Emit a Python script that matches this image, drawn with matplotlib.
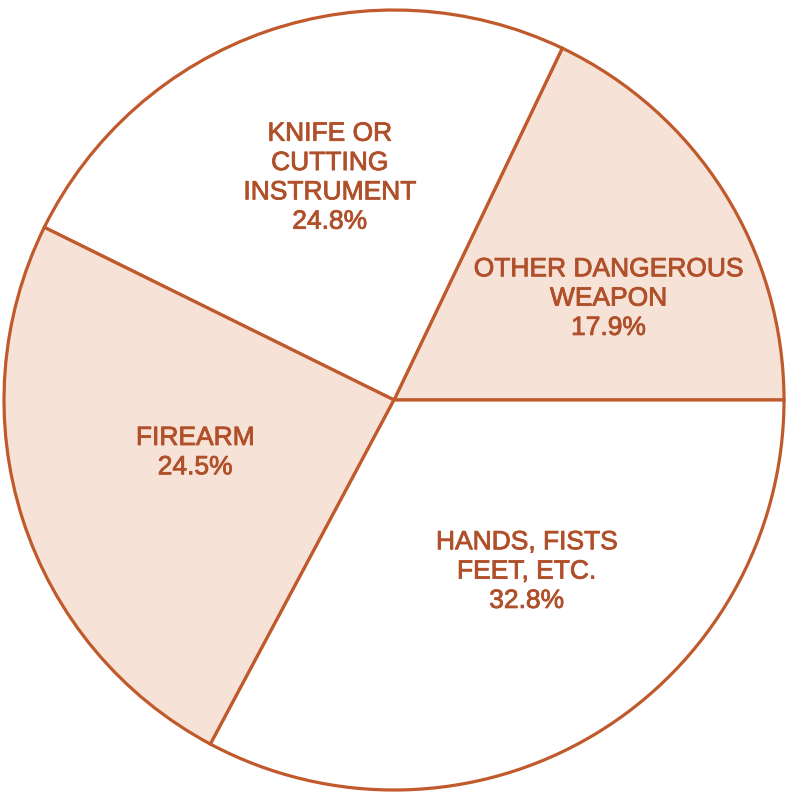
import matplotlib
matplotlib.use('Agg')
import matplotlib.pyplot as plt
import matplotlib.patheffects as pe

# weapon shares, counter-clockwise from 3 o'clock
labels = ['OTHER DANGEROUS\nWEAPON', 'KNIFE OR\nCUTTING\nINSTRUMENT', 'FIREARM', 'HANDS, FISTS\nFEET, ETC.']
shares = [17.9, 24.8, 24.5, 32.8]
shaded = [True, False, True, False]

brown = '#c05a2c'
txt = '#b0502a'
fill = '#f6e2d6'

fig = plt.figure(figsize=(7.87, 7.93), dpi=100)
ax = fig.add_axes([0, 0, 1, 1])

cols = [fill if s else 'white' for s in shaded]
wedges, _ = ax.pie(shares, startangle=0, counterclock=True, colors=cols,
                   wedgeprops=dict(edgecolor=brown, linewidth=2.3))

# label spots (data units)
spots = [(0.55, 0.26), (-0.165, 0.57), (-0.51, -0.135), (0.34, -0.44)]
for lab, v, (x, y) in zip(labels, shares, spots):
    t = ax.text(x, y, '%s\n%.1f%%' % (lab, v), ha='center', va='center',
                fontsize=19, family='Liberation Sans', color=txt, linespacing=1.28)
    t.set_path_effects([pe.withStroke(linewidth=0.6, foreground=txt)])

ax.set_xlim(-394/390, (787-394)/390)
ax.set_ylim(-(793-400)/390, 400/390)
ax.set_aspect('auto')
ax.axis('off')

fig.savefig('out.png', dpi=100, facecolor='white')
